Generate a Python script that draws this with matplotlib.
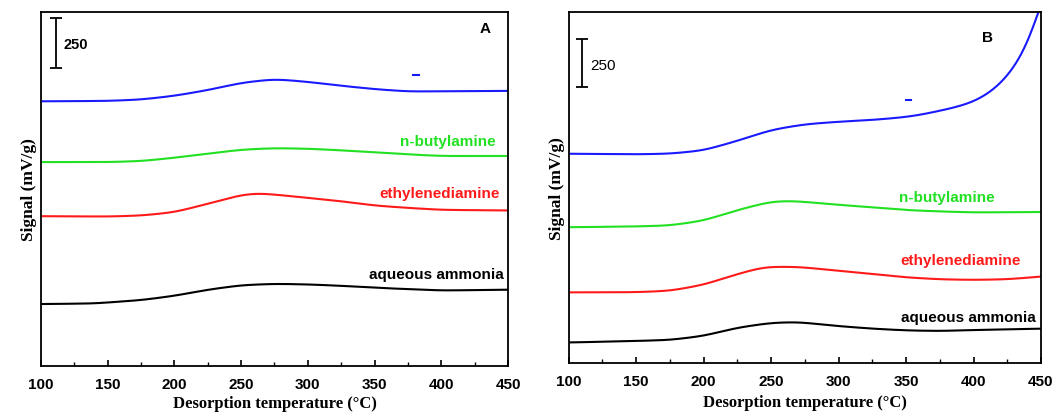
import numpy as np
import matplotlib
matplotlib.use('Agg')
import matplotlib.pyplot as plt

# panel A (arbitrary offset units, scale bar = 250 mV/g)
tA_blue = [100, 150, 175, 200, 225, 250, 275, 300, 325, 350, 375, 400, 450]
yA_blue = [1346, 1348, 1355, 1374, 1403, 1440, 1459, 1445, 1425, 1408, 1396, 1397, 1399]
tA_green = [100, 150, 175, 200, 225, 250, 275, 300, 325, 350, 375, 400, 450]
yA_green = [1037, 1037, 1042, 1059, 1080, 1100, 1108, 1105, 1097, 1086, 1076, 1068, 1068]
tA_red = [100, 150, 175, 200, 225, 250, 262, 275, 300, 325, 350, 375, 400, 450]
yA_red = [762, 760, 765, 782, 825, 870, 879, 872, 855, 838, 816, 804, 794, 791]
tA_black = [100, 140, 150, 175, 200, 225, 250, 275, 300, 325, 350, 375, 400, 450]
yA_black = [315, 318, 323, 335, 357, 388, 411, 418, 415, 408, 398, 391, 384, 388]

# panel B
tB_blue = [100, 150, 175, 200, 225, 250, 275, 300, 325, 350, 362, 385, 400, 413, 425, 436, 443, 447, 450]
yB_blue = [1073, 1070, 1073, 1090, 1139, 1195, 1224, 1237, 1246, 1261, 1274, 1308, 1338, 1389, 1465, 1575, 1676, 1781, 1840]
tB_green = [100, 150, 175, 200, 225, 250, 265, 275, 300, 325, 350, 375, 400, 450]
yB_green = [696, 700, 705, 730, 784, 828, 831, 826, 811, 798, 784, 777, 772, 774]
tB_red = [100, 150, 175, 200, 225, 245, 270, 300, 325, 350, 375, 400, 425, 450]
yB_red = [362, 363, 370, 401, 456, 493, 493, 473, 456, 439, 429, 426, 429, 443]
tB_black = [100, 150, 175, 200, 225, 250, 270, 300, 325, 350, 375, 400, 450]
yB_black = [105, 113, 118, 139, 181, 206, 210, 189, 176, 167, 164, 169, 176]

names = ['n-butylamine', 'ethylenediamine', 'aqueous ammonia']
GREEN = '#22e022'
RED = '#ff1a1a'
BLUE = '#1a1aff'

def smooth(t, y, width=7.0):
    tt = np.linspace(100, 450, 701)
    yy = np.interp(tt, t, y)
    step = tt[1] - tt[0]
    k = np.arange(-int(3 * width / step), int(3 * width / step) + 1) * step
    g = np.exp(-0.5 * (k / width) ** 2)
    g /= g.sum()
    n = len(k) // 2
    pad = np.concatenate([np.full(n, yy[0]), yy, yy[-1] + (yy[-1] - yy[-2]) * np.arange(1, n + 1)])
    return tt, np.convolve(pad, g, mode='valid')

fig = plt.figure(figsize=(10.59, 4.14), dpi=100)
axA = fig.add_axes([0.0387, 0.1135, 0.441, 0.855])
axB = fig.add_axes([0.537, 0.1208, 0.446, 0.848])

def style(ax, lp):
    ax.set_xlim(100, 450)
    ax.set_ylim(0, 1800)
    ax.set_yticks([])
    ax.set_xticks(np.arange(100, 451, 50))
    ax.set_xticks(np.arange(125, 450, 50), minor=True)
    ax.tick_params(axis='x', direction='in', length=4, width=1.2, pad=8)
    ax.tick_params(axis='x', which='minor', direction='in', length=3, width=1.0)
    for lab in ax.get_xticklabels():
        lab.set_fontfamily('Liberation Sans')
        lab.set_fontweight('bold')
        lab.set_fontsize(11)
    for s in ax.spines.values():
        s.set_linewidth(1.3)
    ax.set_xlabel('Desorption temperature (\u00b0C)', family='Liberation Serif',
                  fontweight='bold', fontsize=12, labelpad=lp)
    ax.set_ylabel('Signal (mV/g)', family='Liberation Serif', fontweight='bold',
                  fontsize=12.5, labelpad=3)

for ax, lp, data in [(axA, 3, [(tA_blue, yA_blue, BLUE), (tA_green, yA_green, GREEN),
                               (tA_red, yA_red, RED), (tA_black, yA_black, 'black')]),
                     (axB, 4.5, [(tB_blue, yB_blue, BLUE), (tB_green, yB_green, GREEN),
                                 (tB_red, yB_red, RED), (tB_black, yB_black, 'black')])]:
    for t, y, c in data:
        tt, yy = smooth(t, y)
        ax.plot(tt, yy, color=c, lw=1.5)
    style(ax, lp)

lab_kw = dict(family='Liberation Sans', fontweight='bold', fontsize=11, ha='right', va='center')
axA.text(441, 1142, names[0], color=GREEN, **lab_kw)
axA.text(444, 881, names[1], color=RED, **lab_kw)
axA.text(447, 467, names[2], color='black', **lab_kw)
axB.text(416, 852, names[0], color=GREEN, **lab_kw)
axB.text(435, 527, names[1], color=RED, **lab_kw)
axB.text(446, 235, names[2], color='black', **lab_kw)

# small blue dashes
axA.plot([379, 383], [1482, 1482], color=BLUE, lw=1.5)
axB.plot([350, 354], [1347, 1347], color=BLUE, lw=1.5)

# panel letters
axA.text(433, 1720, 'A', family='Liberation Sans', fontweight='bold', fontsize=11, ha='center', va='center')
axB.text(410, 1672, 'B', family='Liberation Sans', fontweight='bold', fontsize=11, ha='center', va='center')

# scale bars
axA.errorbar([111.5], [1642], yerr=[[126], [126]], color='black', capsize=4, elinewidth=1.3, capthick=1.3)
axA.text(117, 1635, '250', family='Liberation Sans', fontweight='bold', fontsize=10.5, va='center')
axB.errorbar([110], [1538], yerr=[[125], [125]], color='black', capsize=4, elinewidth=1.3, capthick=1.3)
axB.text(116, 1530, '250', family='Liberation Sans', fontsize=11, va='center')

fig.savefig('out.png', dpi=100)
